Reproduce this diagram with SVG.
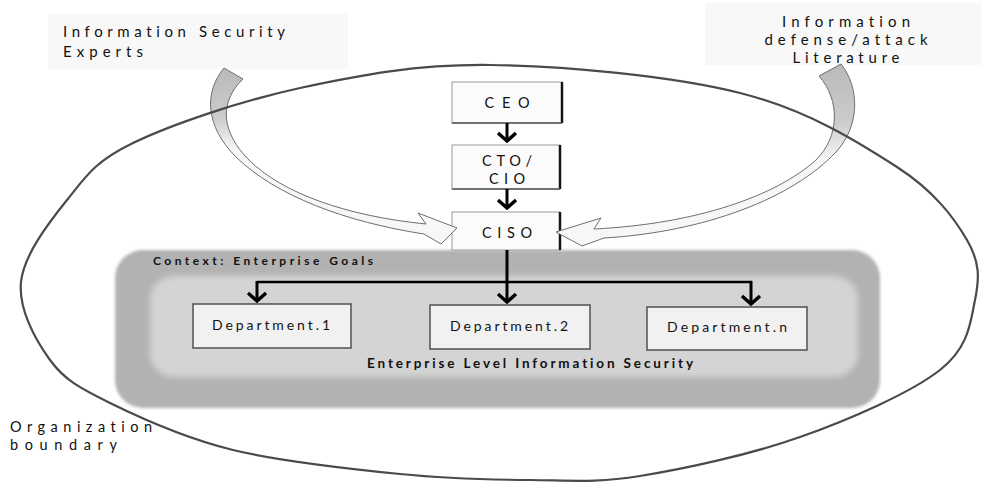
<svg xmlns="http://www.w3.org/2000/svg" width="982" height="482" viewBox="0 0 982 482">
  <defs>
    <style>
      .txt { font-family: Lato, "Open Sans", "Liberation Sans", sans-serif; fill: #111; font-variant-ligatures: none; font-feature-settings: "liga" 0, "clig" 0; }
      .bold { font-weight: 700; }
      .src-bg { fill: #f8f8f8; }
      .box { fill: #fbfbfb; stroke: #9a9a9a; stroke-width: 1; }
      .box-edge { stroke: #151515; stroke-width: 2.5; fill: none; }
      .box-base { stroke: #555; stroke-width: 1.5; fill: none; }
      .dept { fill: #f1f1f1; stroke: #505050; stroke-width: 1.5; }
      .flow { stroke: #000; stroke-width: 3; fill: none; marker-end: url(#chev); }
      .bus { stroke: #000; stroke-width: 2.5; fill: none; }
      .curved { stroke: #6e6e6e; stroke-width: 1; stroke-linejoin: miter; }
      .boundary { fill: none; stroke: #4a4a4a; stroke-width: 2.2; }
    </style>
    <marker id="chev" markerUnits="userSpaceOnUse" viewBox="-12 -12 14 24" markerWidth="14" markerHeight="24" refX="0" refY="0" orient="auto">
      <path d="M-8,-9 L0,0 L-8,9" fill="none" stroke="#000" stroke-width="3.4" stroke-linejoin="miter"/>
    </marker>
    <linearGradient id="shadeL" gradientUnits="userSpaceOnUse" x1="0" y1="70" x2="0" y2="150">
      <stop offset="0" stop-color="#bababa"/>
      <stop offset="0.6" stop-color="#cccccc"/>
      <stop offset="1" stop-color="#f7f7f7"/>
    </linearGradient>
    <linearGradient id="shadeR" gradientUnits="userSpaceOnUse" x1="0" y1="66" x2="0" y2="160">
      <stop offset="0" stop-color="#bababa"/>
      <stop offset="0.6" stop-color="#cccccc"/>
      <stop offset="1" stop-color="#f7f7f7"/>
    </linearGradient>
    <filter id="soft" x="-5%" y="-10%" width="110%" height="120%">
      <feGaussianBlur stdDeviation="1.5"/>
    </filter>
    <filter id="softer" x="-5%" y="-10%" width="110%" height="120%">
      <feGaussianBlur stdDeviation="3"/>
    </filter>
  </defs>

  <rect width="982" height="482" fill="#ffffff"/>

  <!-- knowledge sources -->
  <g id="source-experts">
    <rect class="src-bg" x="48" y="14" width="300" height="55"/>
    <text class="txt" font-size="15" x="63" y="37" textLength="222" lengthAdjust="spacing">Information Security</text>
    <text class="txt" font-size="15" x="63" y="57" textLength="80" lengthAdjust="spacing">Experts</text>
  </g>
  <g id="source-literature">
    <rect class="src-bg" x="705" y="3" width="277" height="62"/>
    <text class="txt" font-size="15" x="846" y="27" text-anchor="middle" textLength="128" lengthAdjust="spacing">Information</text>
    <text class="txt" font-size="15" x="846" y="45" text-anchor="middle" textLength="163" lengthAdjust="spacing">defense/attack</text>
    <text class="txt" font-size="15" x="846" y="63" text-anchor="middle" textLength="107" lengthAdjust="spacing">Literature</text>
  </g>

  <!-- enterprise context panel -->
  <g id="context-panel">
    <rect x="115" y="250" width="765" height="158" rx="28" fill="#b2b2b2" filter="url(#soft)"/>
    <rect x="150" y="276" width="708" height="101" rx="24" fill="#d4d4d4" filter="url(#softer)"/>
    <text class="txt bold" font-size="12" x="153" y="265" textLength="220" lengthAdjust="spacing">Context: Enterprise Goals</text>
    <text class="txt bold" font-size="13.5" x="367" y="368" textLength="326" lengthAdjust="spacing">Enterprise Level Information Security</text>
  </g>

  <!-- executive chain -->
  <g id="node-ceo">
    <rect class="box" x="452" y="82" width="110" height="41"/>
    <line class="box-edge" x1="562" y1="82" x2="562" y2="123"/>
    <line class="box-base" x1="452" y1="123" x2="562" y2="123"/>
    <text class="txt" font-size="14.5" x="507" y="108" text-anchor="middle" textLength="45" lengthAdjust="spacing">CEO</text>
  </g>
  <g id="node-cto">
    <rect class="box" x="452" y="145" width="108" height="44"/>
    <line class="box-edge" x1="560" y1="145" x2="560" y2="189"/>
    <line class="box-base" x1="452" y1="189" x2="560" y2="189"/>
    <text class="txt" font-size="14.5" x="507" y="166" text-anchor="middle" textLength="50" lengthAdjust="spacing">CTO/</text>
    <text class="txt" font-size="14.5" x="507" y="184" text-anchor="middle" textLength="36" lengthAdjust="spacing">CIO</text>
  </g>
  <g id="node-ciso">
    <rect class="box" x="452" y="212" width="108" height="38"/>
    <line class="box-edge" x1="560" y1="212" x2="560" y2="250"/>
    <text class="txt" font-size="14.5" x="507" y="238" text-anchor="middle" textLength="50" lengthAdjust="spacing">CISO</text>
  </g>

  <!-- departments -->
  <g id="node-dept1">
    <rect class="dept" x="193" y="304" width="158" height="44"/>
    <text class="txt" font-size="14" x="271" y="330" text-anchor="middle" textLength="118" lengthAdjust="spacing">Department.1</text>
  </g>
  <g id="node-dept2">
    <rect class="dept" x="430" y="305" width="160" height="44"/>
    <text class="txt" font-size="14" x="509" y="331" text-anchor="middle" textLength="118" lengthAdjust="spacing">Department.2</text>
  </g>
  <g id="node-deptn">
    <rect class="dept" x="647" y="307" width="160" height="43"/>
    <text class="txt" font-size="14" x="727" y="332" text-anchor="middle" textLength="120" lengthAdjust="spacing">Department.n</text>
  </g>

  <!-- reporting and advisory connectors -->
  <g id="connectors">
    <line class="flow" x1="507" y1="123" x2="507" y2="141"/>
    <line class="flow" x1="507" y1="189" x2="507" y2="208"/>
    <line class="flow" x1="507" y1="250" x2="507" y2="302"/>
    <line class="bus" x1="257" y1="282" x2="752" y2="282"/>
    <line class="flow" x1="257" y1="281" x2="257" y2="301"/>
    <line class="flow" x1="751" y1="281" x2="751" y2="304"/>
    <!-- curved block arrows feeding the CISO -->
    <path class="curved" fill="url(#shadeL)" d="M224,68 C204,92 205,126 236,157 C276,196 346,222 424,234 L441,244 L457,228 L418,213 L426,224 C346,216 282,193 249,160 C222,133 218,103 243,79 Z"/>
    <path class="curved" fill="url(#shadeR)" d="M841,64 C860,88 860,126 836,152 C793,198 705,232 604,238 L582,246 L556,232 L601,218 L594,229 C696,224 776,196 816,160 C840,136 840,100 819,76 Z"/>
  </g>

  <!-- organization boundary -->
  <g id="org-boundary">
    <path class="boundary" d="M490,65 C563.3,65.8 672.2,76 740,93 C807.8,110 859.2,142.5 897,167 C934.8,191.5 954,217.8 967,240 C980,262.2 979.5,278.3 975,300 C970.5,321.7 969.2,347.2 940,370 C910.8,392.8 850,419.3 800,437 C750,454.7 685,468.8 640,476 C595,483.2 570,480.3 530,480 C490,479.7 449.5,479 400,474 C350.5,469 281.3,461.8 233,450 C184.7,438.2 140.5,418 110,403 C79.5,388 64.8,380.2 50,360 C35.2,339.8 18.2,308.7 21,282 C23.8,255.3 48.3,223.2 67,200 C85.7,176.8 94.2,161.7 133,143 C171.8,124.3 240.5,101 300,88 C359.5,75 416.7,64.2 490,65 Z"/>
    <text class="txt" font-size="14.5" x="10" y="432" textLength="142" lengthAdjust="spacing">Organization</text>
    <text class="txt" font-size="14.5" x="10" y="450" textLength="107" lengthAdjust="spacing">boundary</text>
  </g>
</svg>
